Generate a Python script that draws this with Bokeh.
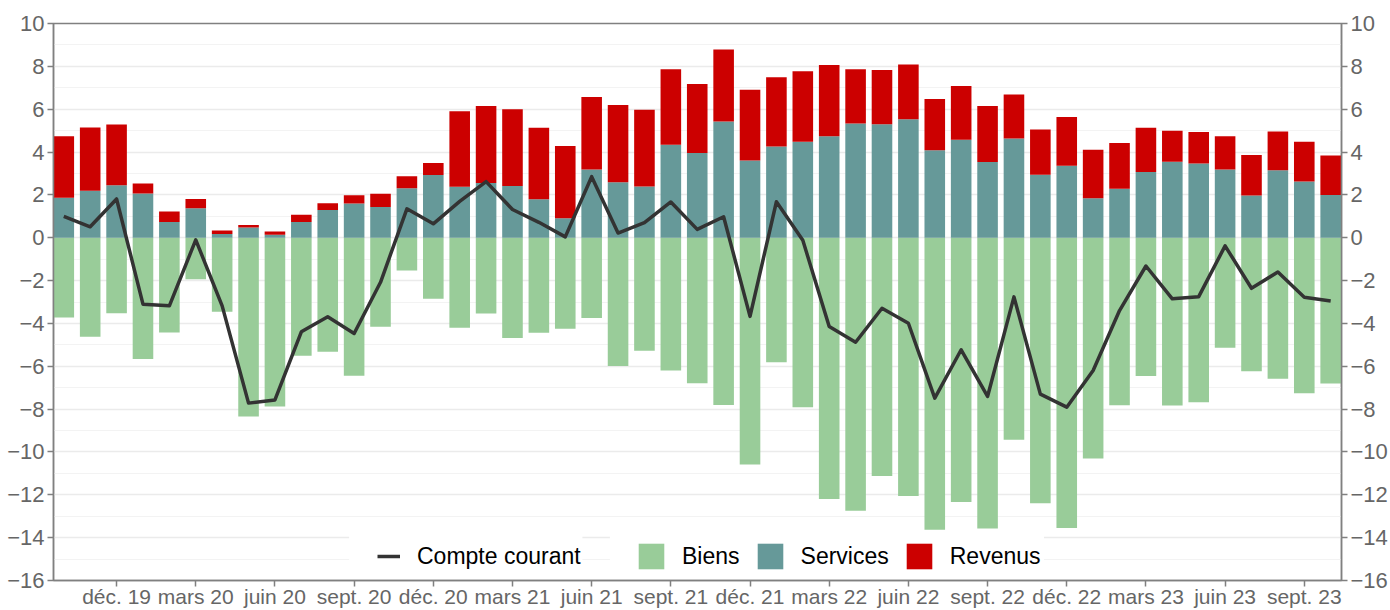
from bokeh.plotting import figure
from bokeh.models import (ColumnDataSource, Range1d, FixedTicker, SingleIntervalTicker,
                          LinearAxis, Legend, LegendItem, BoxAnnotation)
from bokeh.embed import file_html
from bokeh.resources import INLINE

months = ["oct. 19", "nov. 19", "déc. 19",
          "janv. 20", "févr. 20", "mars 20", "avr. 20", "mai 20", "juin 20",
          "juil. 20", "août 20", "sept. 20", "oct. 20", "nov. 20", "déc. 20",
          "janv. 21", "févr. 21", "mars 21", "avr. 21", "mai 21", "juin 21",
          "juil. 21", "août 21", "sept. 21", "oct. 21", "nov. 21", "déc. 21",
          "janv. 22", "févr. 22", "mars 22", "avr. 22", "mai 22", "juin 22",
          "juil. 22", "août 22", "sept. 22", "oct. 22", "nov. 22", "déc. 22",
          "janv. 23", "févr. 23", "mars 23", "avr. 23", "mai 23", "juin 23",
          "juil. 23", "août 23", "sept. 23", "oct. 23"]

biens = [-3.72, -4.62, -3.53, -5.66, -4.42, -1.94, -3.46, -8.34, -7.88,
         -5.51, -5.32, -6.44, -4.16, -1.53, -2.85, -4.20, -3.54, -4.68,
         -4.44, -4.25, -3.75, -5.99, -5.27, -6.20, -6.79, -7.81, -10.58,
         -5.81, -7.91, -12.19, -12.74, -11.12, -12.06, -13.63, -12.33, -13.57,
         -9.43, -12.39, -13.55, -10.31, -7.82, -6.45, -7.83, -7.68, -5.13,
         -6.23, -6.58, -7.26, -6.81]

services = [1.87, 2.19, 2.45, 2.06, 0.74, 1.38, 0.17, 0.48, 0.14,
            0.74, 1.29, 1.60, 1.44, 2.31, 2.93, 2.38, 2.56, 2.42,
            1.80, 0.91, 3.18, 2.59, 2.39, 4.34, 3.95, 5.42, 3.61,
            4.26, 4.48, 4.74, 5.33, 5.30, 5.53, 4.08, 4.57, 3.53,
            4.63, 2.94, 3.36, 1.84, 2.29, 3.07, 3.55, 3.47, 3.19,
            1.97, 3.15, 2.62, 2.00]

revenus = [2.87, 2.95, 2.83, 0.47, 0.48, 0.43, 0.17, 0.12, 0.15,
           0.33, 0.32, 0.38, 0.61, 0.56, 0.56, 3.52, 3.59, 3.58,
           3.33, 3.37, 3.39, 3.60, 3.58, 3.52, 3.23, 3.37, 3.30,
           3.23, 3.29, 3.32, 2.53, 2.53, 2.56, 2.40, 2.51, 2.62,
           2.05, 2.11, 2.27, 2.27, 2.13, 2.06, 1.44, 1.47, 1.55,
           1.89, 1.81, 1.86, 1.84]

compte_courant = [1.00, 0.51, 1.81, -3.10, -3.18, -0.10, -3.18, -7.72, -7.57,
                  -4.39, -3.69, -4.47, -2.08, 1.35, 0.65, 1.70, 2.62, 1.32,
                  0.72, 0.04, 2.85, 0.22, 0.70, 1.67, 0.39, 0.98, -3.67,
                  1.68, -0.12, -4.14, -4.88, -3.29, -3.99, -7.49, -5.23, -7.41,
                  -2.76, -7.30, -7.91, -6.20, -3.40, -1.32, -2.85, -2.75, -0.38,
                  -2.36, -1.60, -2.78, -2.95]

tick_labels = ["déc. 19", "mars 20", "juin 20", "sept. 20", "déc. 20", "mars 21",
               "juin 21", "sept. 21", "déc. 21", "mars 22", "juin 22", "sept. 22",
               "déc. 22", "mars 23", "juin 23", "sept. 23"]

series_names = ["Biens", "Services", "Revenus"]
line_name = "Compte courant"

xs = list(range(len(months)))
src = ColumnDataSource(dict(x=xs, biens=biens, services=services,
                            revenus=revenus, cc=compte_courant))

GREEN = "#99cc99"
TEAL = "#669999"
RED = "#cc0000"
DARK = "#333333"
AXIS = "#808080"
TXT = "#666666"
FONT = "Liberation Sans"

p = figure(width=1390, height=610, output_backend="svg", toolbar_location=None,
           x_range=Range1d(-0.39, len(months) - 1 + 0.41), y_range=Range1d(-16, 10),
           min_border_left=53, min_border_right=45, min_border_top=23,
           min_border_bottom=0)
p.outline_line_color = AXIS
p.outline_line_width = 1.5
p.background_fill_color = "white"
p.border_fill_color = "white"

p.yaxis.ticker = SingleIntervalTicker(interval=2, num_minor_ticks=2)
p.xgrid.visible = False
p.ygrid.grid_line_color = "#ebebeb"
p.ygrid.grid_line_width = 1.5
p.ygrid.minor_grid_line_color = "#f3f3f3"
p.ygrid.minor_grid_line_width = 1

tick_pos = [i for i, m in enumerate(months) if m in tick_labels]
p.xaxis.ticker = FixedTicker(ticks=tick_pos)
p.xaxis.major_label_overrides = {i: months[i] for i in tick_pos}

right = LinearAxis(ticker=SingleIntervalTicker(interval=2, num_minor_ticks=2))
p.add_layout(right, "right")

for ax in p.yaxis:
    ax.major_label_text_font = FONT
    ax.major_label_text_font_size = "22px"
    ax.major_label_text_color = TXT
    ax.axis_line_color = AXIS
    ax.axis_line_width = 1.5
    ax.major_tick_line_color = AXIS
    ax.major_tick_line_width = 1.5
    ax.major_tick_out = 6
    ax.major_tick_in = 0
    ax.minor_tick_line_color = None
    ax.major_label_standoff = 3

xa = p.xaxis[0]
xa.major_label_text_font = FONT
xa.major_label_text_font_size = "21px"
xa.major_label_text_color = TXT
xa.axis_line_color = AXIS
xa.axis_line_width = 1.5
xa.major_tick_line_color = AXIS
xa.major_tick_line_width = 1.5
xa.major_tick_out = 6
xa.major_tick_in = 0
xa.minor_tick_line_color = None
xa.major_label_standoff = -2

bw = 0.78
r_biens = p.vbar(x="x", top="biens", bottom=0, width=bw, fill_color=GREEN,
                 line_color=None, source=src)
r_stack = p.vbar_stack(["services", "revenus"], x="x", width=bw,
                       fill_color=[TEAL, RED], line_color=None, source=src)
r_line = p.line(x="x", y="cc", line_width=3.5, line_color=DARK,
                line_join="round", source=src)

# white legend backgrounds
for l, r in [(10.81, 19.65), (20.69, 37.14)]:
    p.add_layout(BoxAnnotation(left=l, right=r, top=-13.72, bottom=-15.85,
                               fill_color="white", fill_alpha=1.0, line_color=None))

leg_common = dict(orientation="horizontal", background_fill_alpha=0,
                  border_line_color=None, label_text_font=FONT,
                  label_text_font_size="23px", label_text_color="black",
                  padding=0, margin=0, glyph_height=32)

leg1 = Legend(items=[LegendItem(label=line_name, renderers=[r_line])],
              location=(324, 8), glyph_width=23, label_standoff=17, **leg_common)
leg2 = Legend(items=[LegendItem(label=series_names[0], renderers=[r_biens]),
                     LegendItem(label=series_names[1], renderers=[r_stack[0]]),
                     LegendItem(label=series_names[2], renderers=[r_stack[1]])],
              location=(582, 8), glyph_width=32, label_standoff=15, spacing=14,
              **leg_common)
p.add_layout(leg1)
p.add_layout(leg2)

open("out.html", "w").write(file_html(p, INLINE))
